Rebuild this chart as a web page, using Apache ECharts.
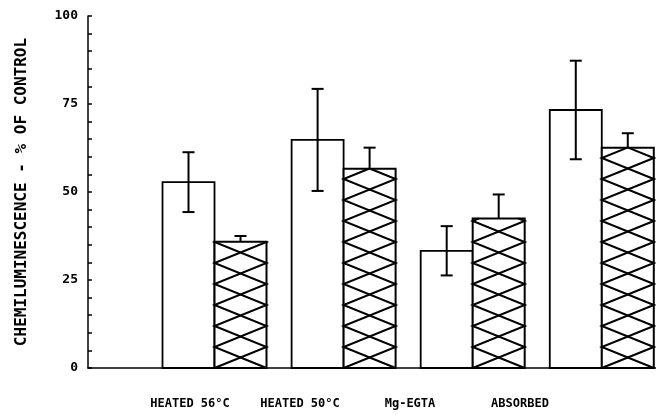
<!DOCTYPE html>
<html><head><meta charset="utf-8">
<script src="https://cdn.jsdelivr.net/npm/echarts@6/dist/echarts.min.js"></script>
<style>html,body{margin:0;padding:0;background:#fff}#c{width:656px;height:415px}</style>
</head><body><div id="c"></div>
<script>
const categories = ['HEATED 56°C', 'HEATED 50°C', 'Mg-EGTA', 'ABSORBED'];
const openValues = [52.8, 64.8, 33.3, 73.3];
const openErrors = [8.5, 14.5, 7.0, 14.0];
const hatchedValues = [35.9, 56.6, 42.5, 62.6];
const hatchedErrors = [1.6, 6.0, 6.8, 4.1];
const yAxisTitle = 'CHEMILUMINESCENCE - % OF CONTROL';

const BAR_W = 52, HATCH_P = 21, CAP = 6;
const chart = echarts.init(document.getElementById('c'), null, {renderer: 'canvas'});

function zig(x0, x1, yb, yt, startLeft) {
  const pts = [];
  let y = yb, left = startLeft;
  pts.push([left ? x0 : x1, y]);
  while (y - HATCH_P > yt) {
    y -= HATCH_P; left = !left;
    pts.push([left ? x0 : x1, y]);
  }
  const frac = (y - yt) / HATCH_P;
  const xs = left ? x0 : x1, xe = left ? x1 : x0;
  pts.push([xs + (xe - xs) * frac, yt]);
  return pts;
}

const openData = openValues.map((v, i) => [i + 1, v, openErrors[i]]);
const hatchData = hatchedValues.map((v, i) => [i + 1, v, hatchedErrors[i]]);

const option = {
  animation: false,
  backgroundColor: '#fff',
  grid: [
    {left: 88, right: 0, top: 16, bottom: 47},
    {left: 135, width: 440, top: 16, bottom: 47}
  ],
  xAxis: [
    {type: 'value', gridIndex: 0, min: 0.02, max: 4.42,
     axisLine: {show: true, onZero: false, lineStyle: {color: '#000', width: 1.5}},
     axisTick: {show: false}, axisLabel: {show: false}, splitLine: {show: false}},
    {type: 'category', gridIndex: 1, data: categories,
     axisLine: {show: false}, axisTick: {show: false}, splitLine: {show: false},
     axisLabel: {margin: 30, color: '#000', fontFamily: 'DejaVu Sans Mono', fontWeight: 'bold', fontSize: 12}}
  ],
  yAxis: [
    {type: 'value', gridIndex: 0, min: 0, max: 100, interval: 25,
     name: yAxisTitle, nameLocation: 'middle', nameRotate: 90, nameGap: 58,
     nameTextStyle: {color: '#000', fontFamily: 'DejaVu Sans Mono', fontWeight: 'bold', fontSize: 16},
     axisLine: {show: true, lineStyle: {color: '#000', width: 1.5}},
     axisTick: {show: true, inside: true, length: 4, lineStyle: {color: '#000', width: 1.5}},
     minorTick: {show: true, splitNumber: 5, length: 4, lineStyle: {color: '#000', width: 1.5}},
     axisLabel: {margin: 10, color: '#000', fontFamily: 'DejaVu Sans Mono', fontWeight: 'bold', fontSize: 13},
     splitLine: {show: false}},
    {type: 'value', gridIndex: 1, show: false, min: 0, max: 100}
  ],
  series: [
    {type: 'custom', xAxisIndex: 0, yAxisIndex: 0, data: openData, clip: false,
     renderItem: function (params, api) {
       const p = api.coord([api.value(0), api.value(1)]);
       const b = api.coord([api.value(0), 0]);
       return {type: 'rect', shape: {x: p[0] - BAR_W, y: p[1], width: BAR_W, height: b[1] - p[1]},
               style: {fill: '#fff', stroke: '#000', lineWidth: 1.8}};
     }},
    {type: 'custom', xAxisIndex: 0, yAxisIndex: 0, data: hatchData, clip: false,
     renderItem: function (params, api) {
       const p = api.coord([api.value(0), api.value(1)]);
       const b = api.coord([api.value(0), 0]);
       const x0 = p[0], x1 = p[0] + BAR_W;
       return {type: 'group', children: [
         {type: 'rect', shape: {x: x0, y: p[1], width: BAR_W, height: b[1] - p[1]},
          style: {fill: '#fff', stroke: '#000', lineWidth: 2}},
         {type: 'polyline', shape: {points: zig(x0, x1, b[1], p[1], true)},
          style: {fill: null, stroke: '#000', lineWidth: 2}},
         {type: 'polyline', shape: {points: zig(x0, x1, b[1], p[1], false)},
          style: {fill: null, stroke: '#000', lineWidth: 2}}
       ]};
     }},
    {type: 'custom', xAxisIndex: 0, yAxisIndex: 0, data: openData, clip: false,
     renderItem: function (params, api) {
       const v = api.value(1), e = api.value(2);
       const hi = api.coord([api.value(0), v + e]);
       const lo = api.coord([api.value(0), v - e]);
       const x = hi[0] - BAR_W / 2;
       const st = {stroke: '#000', lineWidth: 2};
       return {type: 'group', children: [
         {type: 'line', shape: {x1: x, y1: hi[1], x2: x, y2: lo[1]}, style: st},
         {type: 'line', shape: {x1: x - CAP, y1: hi[1], x2: x + CAP, y2: hi[1]}, style: st},
         {type: 'line', shape: {x1: x - CAP, y1: lo[1], x2: x + CAP, y2: lo[1]}, style: st}
       ]};
     }},
    {type: 'custom', xAxisIndex: 0, yAxisIndex: 0, data: hatchData, clip: false,
     renderItem: function (params, api) {
       const v = api.value(1), e = api.value(2);
       const hi = api.coord([api.value(0), v + e]);
       const mid = api.coord([api.value(0), v]);
       const x = hi[0] + BAR_W / 2;
       const st = {stroke: '#000', lineWidth: 2};
       return {type: 'group', children: [
         {type: 'line', shape: {x1: x, y1: hi[1], x2: x, y2: mid[1]}, style: st},
         {type: 'line', shape: {x1: x - CAP, y1: hi[1], x2: x + CAP, y2: hi[1]}, style: st}
       ]};
     }}
  ]
};
chart.setOption(option);
</script></body></html>
